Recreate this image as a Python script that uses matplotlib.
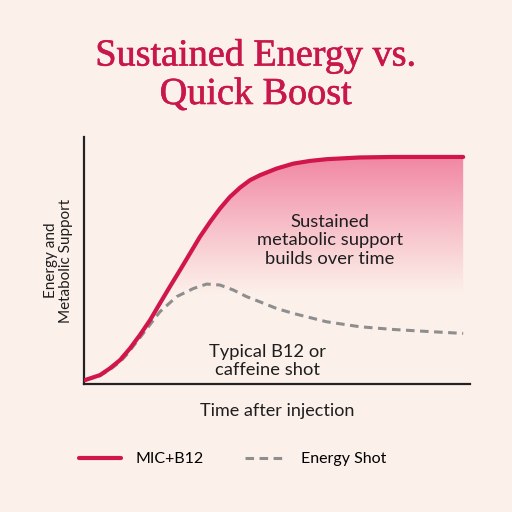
import numpy as np
import matplotlib.pyplot as plt
import matplotlib.patheffects as pe
from matplotlib.colors import to_rgb

# values (time units 0-10, support 0-1)
time_mic = [0.03, 0.42, 0.68, 0.95, 1.21, 1.47, 1.74, 2.0, 2.26, 2.53, 2.79, 3.05, 3.32, 3.58, 3.84,
            4.11, 4.37, 4.63, 5.07, 5.51, 5.95, 6.39, 7.26, 8.14, 9.98]
mic_b12 = [0.016, 0.036, 0.063, 0.097, 0.144, 0.198, 0.259, 0.327, 0.394, 0.462, 0.529, 0.596, 0.657,
           0.711, 0.758, 0.796, 0.826, 0.846, 0.873, 0.893, 0.904, 0.911, 0.918, 0.920, 0.920]

time_shot = [0.03, 0.42, 0.68, 0.95, 1.12, 1.56, 2.0, 2.44, 2.88, 3.23, 3.58, 3.93, 4.28, 4.63, 5.07,
             5.51, 6.39, 7.26, 8.14, 9.02, 9.98]
energy_shot = [0.016, 0.034, 0.058, 0.09, 0.118, 0.205, 0.293, 0.354, 0.387, 0.405, 0.401, 0.381, 0.354,
               0.333, 0.306, 0.286, 0.252, 0.232, 0.221, 0.213, 0.205]

bg = '#fcf0ea'
red = '#d0164b'
grey = '#8e8e8e'

plt.rcParams['font.family'] = ['Lato', 'DejaVu Sans']

fig = plt.figure(figsize=(5.12, 5.12), dpi=100, facecolor=bg)
ax = fig.add_axes([0.164, 0.25, 0.754, 0.482], facecolor=bg)

# gradient fill under the MIC curve
fill = ax.fill_between(time_mic, mic_b12, 0, color='none', lw=0)
r, g, b = to_rgb('#ef6f93')
grad = np.zeros((200, 2, 4))
grad[..., 0], grad[..., 1], grad[..., 2] = r, g, b
yy = np.linspace(0, 1, 200)
grad[..., 3] = (np.clip((yy - 0.36) / (0.92 - 0.36), 0, 1) ** 1.1 * 0.82)[:, None]
img = ax.imshow(grad, extent=[0, 10, 0, 1], origin='lower', aspect='auto', zorder=1)
img.set_clip_path(fill.get_paths()[0], transform=ax.transData)

ax.plot(time_mic, mic_b12, color=red, lw=3, solid_capstyle='round', zorder=3, label='MIC+B12')
ax.plot(time_shot, energy_shot, color=grey, lw=2.2, ls=(0, (2.8, 1.8)), zorder=2, label='Energy Shot')

ax.set_xlim(0, 10.16)
ax.set_ylim(0, 1)
ax.set_xticks([])
ax.set_yticks([])
for s in ['top', 'right']:
    ax.spines[s].set_visible(False)
for s in ['left', 'bottom']:
    ax.spines[s].set_color('#222222')
    ax.spines[s].set_linewidth(1.6)

ax.text(6.47, 0.583, 'Sustained\nmetabolic support\nbuilds over time', ha='center', va='center',
        fontsize=13.2, color='#1e1e1e', linespacing=1.2, zorder=4)
ax.text(4.82, 0.093, 'Typical B12 or\ncaffeine shot', ha='center', va='center',
        fontsize=13.2, color='#1e1e1e', linespacing=1.2, zorder=4)

ax.set_xlabel('Time after injection', fontsize=13, color='#1e1e1e', labelpad=14)
ax.set_ylabel('Energy and\nMetabolic Support', fontsize=11, color='#1e1e1e', labelpad=8, linespacing=1.1)

# medium-weight serif title: regular face thickened with a thin stroke
fig.text(0.5, 0.853, 'Sustained Energy vs.\nQuick Boost', ha='center', va='center',
         fontsize=27.5, color='#c8174a', family=['Liberation Serif', 'DejaVu Serif'], linespacing=1.15,
         path_effects=[pe.withStroke(linewidth=0.45, foreground='#c8174a')])

fig.legend(loc='center', bbox_to_anchor=(0.455, 0.103), ncol=2, frameon=False, fontsize=11.5,
           handlelength=2.6, columnspacing=2.6, handletextpad=0.9)

fig.savefig('out.png', dpi=100, facecolor=bg)
